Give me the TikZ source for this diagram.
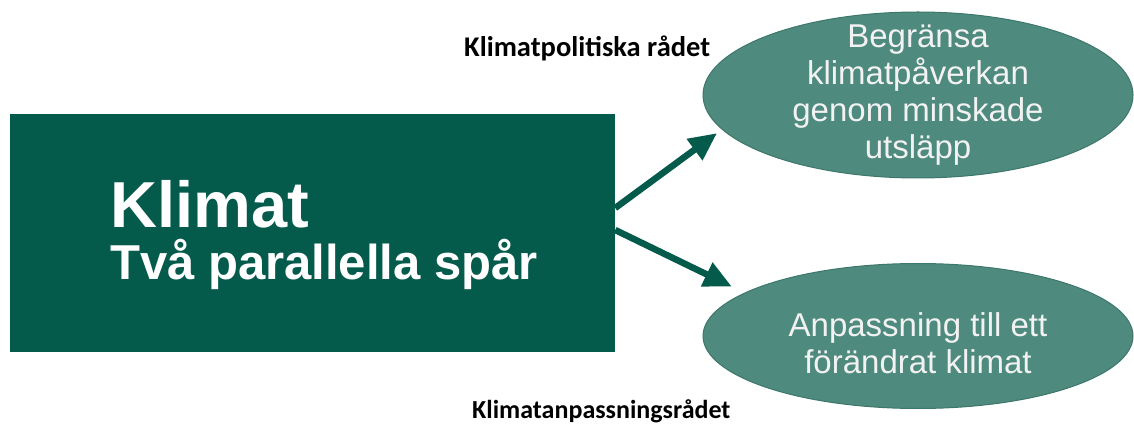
\documentclass[tikz,border=0pt]{standalone}
\usepackage{fontspec}
\setmainfont{Liberation Sans}
\newfontfamily\etikettfont{Carlito}
\usepackage{xcolor}
\usepackage{tikz}
\usetikzlibrary{shapes.geometric,arrows.meta,calc}

\definecolor{morkgron}{HTML}{045B4B}
\definecolor{ljusgron}{HTML}{4E8A7E}
\definecolor{kantgron}{HTML}{3D776B}
\definecolor{ljustext}{HTML}{F2F2F2}

\tikzset{
  ruta/.style={fill=morkgron, draw=none, minimum width=605pt, minimum height=238pt, inner sep=0pt},
  mal/.style={ellipse, fill=ljusgron, draw=kantgron, line width=1pt, inner sep=0pt, minimum width=430pt},
  maltext/.style={align=center, inner sep=0pt, text=ljustext, font=\fontsize{33}{37}\selectfont},
  pil/.style={morkgron, line width=6.5pt, -{Triangle[length=28pt,width=25pt]}},
  rad/.style={font=\etikettfont\bfseries\fontsize{#1}{30}\selectfont, inner sep=0pt, anchor=base west}
}

\begin{document}
\begin{tikzpicture}[x=1pt,y=1pt]
				\useasboundingbox (0,0) rectangle (1134,423);
				% vänster ruta
				\node[ruta] (rubrik) at (312.5,190) {};
				\node[anchor=base west, inner sep=0pt, text=white, font=\bfseries\fontsize{65}{70}\selectfont] (klimat) at (110,195) {Klimat};
				\node[anchor=base west, inner sep=0pt, text=white, font=\bfseries\fontsize{49}{50}\selectfont] (spar) at (110,143) {Två parallella spår};
				% de två målen
				\node[mal, minimum height=166pt] (begransa) at (918,328) {};
				\node[maltext] (begransatext) at (begransa.center) {Begränsa\\klimatpåverkan\\genom minskade\\utsläpp};
				\node[mal, minimum height=145pt] (anpassning) at (918,87) {};
				\node[maltext] (anpassningtext) at ([yshift=-7pt]anpassning.center) {Anpassning till ett\\förändrat klimat};
				% pilar
				\draw[pil, shorten >=6pt] ([yshift=25pt]rubrik.east) -- (begransa.190);
				\draw[pil, shorten >=14pt] ([yshift=3pt]rubrik.east) -- (anpassning.166);
				% råden
				\node[rad=28.5] (politiska) at (464,366) {Klimatpolitiska rådet};
				\node[rad=26] (anpassningsradet) at (472,5) {Klimatanpassningsrådet};
\end{tikzpicture}
\end{document}
